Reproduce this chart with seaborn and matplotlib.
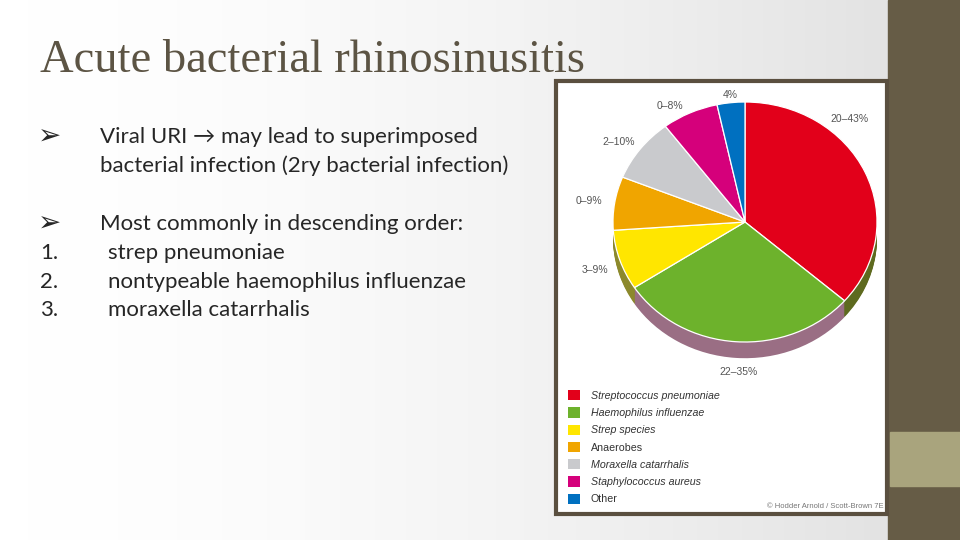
import numpy as np
import pandas as pd
import matplotlib
matplotlib.use("Agg")
import matplotlib.pyplot as plt
from matplotlib.patches import Rectangle, Patch
import seaborn as sns

# -------------------------------
# Data
# -------------------------------

organisms = ["Streptococcus pneumoniae", "Haemophilus influenzae", "Strep species",
             "Anaerobes", "Moraxella catarrhalis", "Staphylococcus aureus", "Other"]
italic_name = [True, True, True, False, True, True, False]
share = [36.4, 29.4, 8.1, 7.2, 8.6, 6.9, 3.4]
range_labels = ["20–43%", "22–35%", "3–9%", "0–9%", "2–10%", "0–8%", "4%"]

top_colors = ["#e2001a", "#6db22c", "#ffe600", "#f0a500", "#c9cacd", "#d5007b", "#0070c0"]
side_colors = ["#5e6a1f", "#9a6e84", "#8c892c", "#a87300", "#8e8f92", "#8f0053", "#004d86"]

# label spots around the pie (pie units)
label_pos = [(0.79, 0.86), (-0.05, -1.25), (-1.14, -0.40), (-1.18, 0.175),
             (-0.96, 0.67), (-0.57, 0.97), (-0.11, 1.06)]

df = pd.DataFrame({"organism": organisms, "share": share, "label": range_labels})

# -------------------------------
# Figure + slide background
# -------------------------------

sns.set_theme(style="white")
plt.rcParams["font.family"] = ["Liberation Sans", "DejaVu Sans"]

fig = plt.figure(figsize=(9.6, 5.4), dpi=100)
bg = fig.add_axes([0, 0, 1, 1])
bg.set_xlim(0, 960)
bg.set_ylim(540, 0)
bg.axis("off")

grad = np.linspace(0, 1, 256) ** 1.6
grad = np.tile(grad, (2, 1))
bg.imshow(grad, extent=(0, 888, 540, 0), aspect="auto",
          cmap=matplotlib.colors.LinearSegmentedColormap.from_list("g", ["#ffffff", "#e3e3e3"]),
          zorder=0)
bg.add_patch(Rectangle((888, 0), 72, 540, color="#665c46", zorder=1))
bg.add_patch(Rectangle((890, 432), 70, 54, color="#a9a47d", zorder=2))

# picture frame
bg.add_patch(Rectangle((556, 81), 331, 433, facecolor="white",
                       edgecolor="#5a4f3f", linewidth=3, zorder=3))

# title
bg.text(40, 72, "Acute bacterial rhinosinusitis", fontsize=33.5, color="#5c5444",
        family=["Liberation Serif", "DejaVu Serif"], va="baseline", zorder=4)

# bullet text
body = ["Lato", "DejaVu Sans"]
fs = 16
tc = "#262626"
bg.text(38, 137, "➢", fontsize=20, color=tc, family=["DejaVu Sans"], va="center", zorder=4)
bg.text(100, 137, "Viral URI → may lead to superimposed", fontsize=fs, color=tc,
        family=body, va="center", zorder=4)
bg.text(100, 166, "bacterial infection (2ry bacterial infection)", fontsize=fs, color=tc,
        family=body, va="center", zorder=4)
bg.text(38, 224, "➢", fontsize=20, color=tc, family=["DejaVu Sans"], va="center", zorder=4)
bg.text(100, 224, "Most commonly in descending order:", fontsize=fs, color=tc,
        family=body, va="center", zorder=4)
items = ["strep pneumoniae", "nontypeable haemophilus influenzae", "moraxella catarrhalis"]
for i, item in enumerate(items):
    y = 253 + i * 28.5
    bg.text(40, y, f"{i + 1}.", fontsize=fs, color=tc, family=body, va="center", zorder=4)
    bg.text(108, y, item, fontsize=fs, color=tc, family=body, va="center", zorder=4)

# -------------------------------
# Pie (slightly tilted, with a thick edge)
# -------------------------------

cx, cy, rx, ry = 745, 222, 132, 120
x0, x1, y0, y1 = -1.25, 1.25, -1.45, 1.25
ax = fig.add_axes([(cx + x0 * rx) / 960, (540 - (cy - y0 * ry)) / 540,
                   (x1 - x0) * rx / 960, (y1 - y0) * ry / 540])
ax.patch.set_alpha(0)

for d in np.linspace(0.135, 0.01, 16):
    ax.pie(df["share"], colors=side_colors, startangle=90, counterclock=False,
           center=(0, -d), wedgeprops=dict(linewidth=0))
ax.pie(df["share"], colors=top_colors, startangle=90, counterclock=False,
       wedgeprops=dict(edgecolor="white", linewidth=0.9))

ax.set_aspect("auto")
ax.set_xlim(x0, x1)
ax.set_ylim(y0, y1)
ax.axis("off")

for lab, (u, v) in zip(df["label"], label_pos):
    ax.text(u, v, lab, fontsize=7.5, color="#555555", ha="center", va="center")

# -------------------------------
# Legend
# -------------------------------

handles = [Patch(facecolor=c, edgecolor="none") for c in top_colors]
leg = fig.legend(handles, organisms, loc="upper left",
                 bbox_to_anchor=(568 / 960, 1 - 390 / 540), frameon=False,
                 fontsize=7.7, handlelength=1.12, handleheight=1.12,
                 handletextpad=1.0, labelspacing=0.6, borderpad=0, borderaxespad=0)
for t, it in zip(leg.get_texts(), italic_name):
    t.set_color("#333333")
    if it:
        t.set_fontstyle("italic")

bg.text(884, 507, "© Hodder Arnold / Scott-Brown 7E", fontsize=5.5, color="#777777",
        ha="right", va="center", zorder=4)

fig.savefig("out.png", dpi=100)
